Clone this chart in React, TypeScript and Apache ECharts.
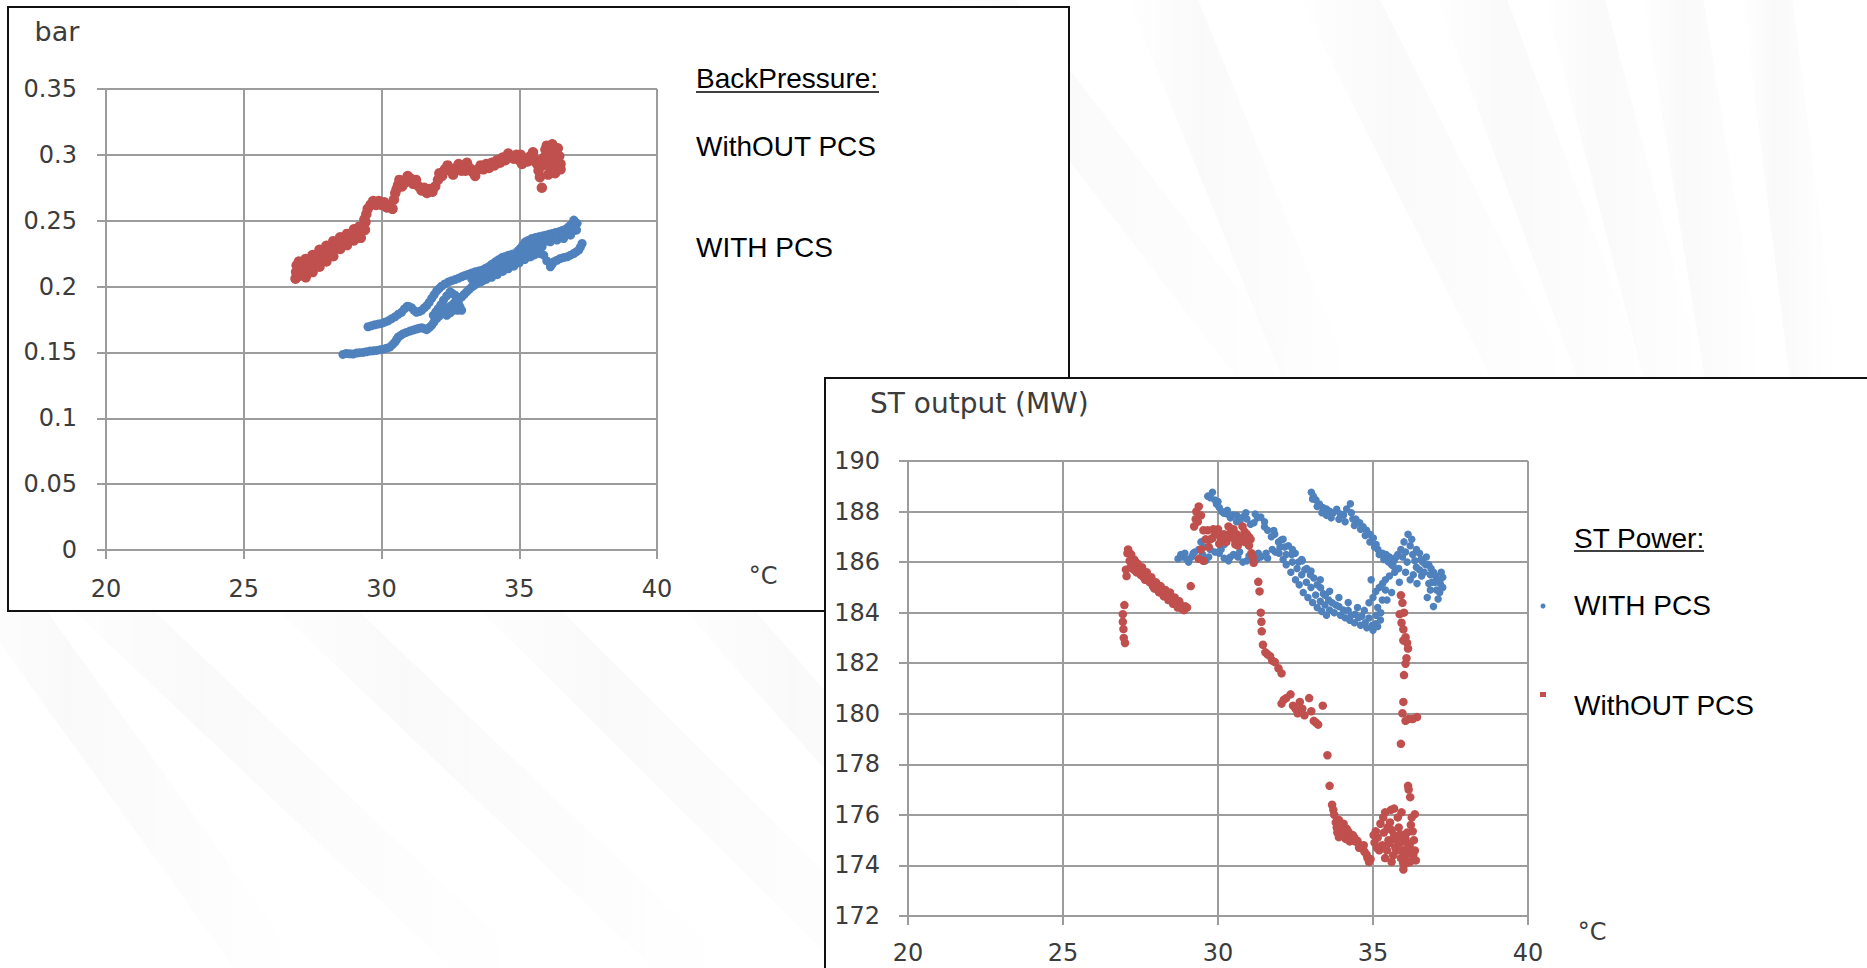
import React, { useEffect, useRef } from 'react';
import * as echarts from 'echarts';

// ---------- data ----------
const tempTicks = [20, 25, 30, 35, 40];
const bpTicks = [0, 0.05, 0.1, 0.15, 0.2, 0.25, 0.3, 0.35];
const powerTicks = [172, 174, 176, 178, 180, 182, 184, 186, 188, 190];

// BackPressure (bar) vs temperature (°C)
const bpWithoutPCS: [number, number][] = [
  [26.88, 0.206], [26.9, 0.211], [26.92, 0.216], [27.0, 0.208], [27.05, 0.214], [27.15, 0.209], [27.2, 0.215],
  [27.3, 0.212], [27.35, 0.219], [27.45, 0.216], [27.55, 0.221], [27.6, 0.217], [27.7, 0.224], [27.8, 0.221],
  [27.9, 0.227], [28.0, 0.223], [28.1, 0.23], [28.2, 0.226], [28.3, 0.233], [28.4, 0.229], [28.5, 0.236],
  [28.6, 0.232], [28.7, 0.238], [28.8, 0.235], [28.9, 0.24], [29.0, 0.237], [29.1, 0.242], [29.2, 0.239],
  [29.3, 0.245], [29.4, 0.243], [29.42, 0.249], [29.45, 0.255], [29.5, 0.259], [29.6, 0.262], [29.7, 0.265],
  [29.8, 0.262], [29.9, 0.265], [30.0, 0.262], [30.1, 0.264], [30.2, 0.26], [30.3, 0.262], [30.4, 0.259],
  [30.45, 0.266], [30.5, 0.271], [30.6, 0.277], [30.65, 0.281], [30.75, 0.276], [30.85, 0.279], [30.95, 0.284],
  [31.05, 0.282], [31.15, 0.278], [31.25, 0.281], [31.35, 0.276], [31.45, 0.273], [31.55, 0.275], [31.65, 0.271],
  [31.75, 0.274], [31.85, 0.272], [31.95, 0.276], [32.05, 0.281], [32.1, 0.286], [32.2, 0.284], [32.3, 0.289],
  [32.4, 0.292], [32.5, 0.288], [32.6, 0.285], [32.7, 0.29], [32.8, 0.293], [32.9, 0.288], [33.0, 0.291],
  [33.1, 0.294], [33.2, 0.29], [33.3, 0.287], [33.4, 0.284], [33.5, 0.289], [33.6, 0.292], [33.7, 0.289],
  [33.8, 0.293], [33.9, 0.29], [34.0, 0.294], [34.1, 0.292], [34.2, 0.296], [34.3, 0.294], [34.4, 0.298],
  [34.5, 0.296], [34.6, 0.301], [34.7, 0.299], [34.8, 0.297], [34.9, 0.3], [35.0, 0.296], [35.1, 0.293],
  [35.2, 0.297], [35.3, 0.295], [35.4, 0.299], [35.5, 0.302], [35.55, 0.297], [35.65, 0.293], [35.7, 0.288],
  [35.75, 0.283], [35.82, 0.275], [35.85, 0.292], [35.9, 0.298], [35.95, 0.304], [36.0, 0.307], [36.05, 0.3],
  [36.1, 0.294], [36.15, 0.288], [36.2, 0.308], [36.25, 0.303], [36.3, 0.297], [36.35, 0.291], [36.4, 0.305],
  [36.45, 0.299], [36.5, 0.293], [36.3, 0.286], [36.05, 0.285], [35.95, 0.295], [36.5, 0.289],
  [27.1, 0.218], [27.65, 0.22], [28.25, 0.229], [28.85, 0.237], [30.55, 0.274], [31.1, 0.28], [31.7, 0.272],
  [32.25, 0.287], [33.05, 0.288], [33.75, 0.291], [34.35, 0.296], [35.05, 0.3], [35.45, 0.296], [36.15, 0.302],
  // lower-left band edges
  [27.25, 0.207], [27.5, 0.211], [27.75, 0.215], [28.0, 0.219], [28.25, 0.223], [28.5, 0.2285], [28.75, 0.2315],
  [29.0, 0.235], [29.25, 0.237],
  [27.0, 0.219], [27.25, 0.221], [27.5, 0.224], [27.75, 0.228], [28.0, 0.231], [28.25, 0.2345], [28.5, 0.2375],
  [28.75, 0.24], [29.0, 0.2435], [29.2, 0.2455], [29.38, 0.251],
];

const bpWithPCS: [number, number][] = [
  // lower strand
  [28.6, 0.1485], [28.85, 0.149], [29.09, 0.1495], [29.33, 0.15], [29.58, 0.151], [29.82, 0.1515], [30.06, 0.1525],
  [30.3, 0.154], [30.49, 0.1579], [30.61, 0.1617], [30.79, 0.1642], [31.03, 0.1662], [31.27, 0.1678], [31.46, 0.1688],
  [31.64, 0.1673], [31.82, 0.1706], [32.0, 0.1756], [32.18, 0.1795], [32.37, 0.1833], [32.55, 0.1858], [32.73, 0.1896],
  [32.91, 0.1921], [33.09, 0.196], [33.28, 0.1997], [33.46, 0.2023], [33.7, 0.2048],
  [28.72, 0.1492], [28.97, 0.1488], [29.2, 0.1498], [29.45, 0.1505], [29.7, 0.1512], [29.94, 0.152], [30.18, 0.1532],
  [30.4, 0.156], [30.55, 0.1598], [30.7, 0.163], [30.9, 0.1652], [31.15, 0.167], [31.36, 0.1683], [31.55, 0.168],
  [31.73, 0.1688], [31.9, 0.173], [32.09, 0.1775], [32.27, 0.1814], [32.46, 0.1845], [32.64, 0.1877], [32.82, 0.1908],
  [33.0, 0.194], [33.18, 0.1978], [33.37, 0.201], [33.58, 0.2035],
  // middle strand
  [31.88, 0.1782], [32.06, 0.1833], [32.25, 0.1896], [32.49, 0.196], [32.67, 0.1934], [32.79, 0.187], [32.91, 0.182],
  [32.61, 0.182], [32.37, 0.1782],
  [31.97, 0.1808], [32.15, 0.186], [32.37, 0.193], [32.58, 0.1947], [32.73, 0.19], [32.85, 0.1845], [32.76, 0.182],
  [32.49, 0.18],
  // upper strand
  [29.51, 0.1695], [29.76, 0.171], [30.0, 0.172], [30.24, 0.174], [30.49, 0.177], [30.73, 0.1805], [30.93, 0.185],
  [31.09, 0.184], [31.27, 0.1805], [31.46, 0.182], [31.64, 0.1855], [31.82, 0.191], [32.0, 0.1967], [32.18, 0.2003],
  [32.43, 0.2035], [32.67, 0.2053], [32.91, 0.2074], [33.16, 0.2094], [33.4, 0.2112], [33.64, 0.2124], [33.88, 0.215],
  [34.13, 0.2188], [34.37, 0.222], [34.61, 0.2238], [34.85, 0.2251], [35.04, 0.2289], [35.22, 0.234], [35.46, 0.2365],
  [35.7, 0.2378], [35.95, 0.239], [36.19, 0.2403], [36.43, 0.2416], [36.67, 0.2434], [36.86, 0.2467], [36.98, 0.2505],
  [37.1, 0.248], [37.08, 0.2429], [36.92, 0.2416],
  [29.63, 0.1702], [29.88, 0.1715], [30.12, 0.173], [30.36, 0.1755], [30.61, 0.179], [30.83, 0.183], [31.0, 0.1848],
  [31.18, 0.182], [31.37, 0.181], [31.55, 0.1838], [31.73, 0.188], [31.91, 0.1938], [32.09, 0.1985], [32.3, 0.202],
  [32.55, 0.2045], [32.79, 0.2063], [33.03, 0.2084], [33.28, 0.2103], [33.52, 0.2118], [33.76, 0.2137], [34.0, 0.2169],
  [34.25, 0.2204], [34.49, 0.2229], [34.73, 0.2245], [34.95, 0.227], [35.13, 0.2315], [35.34, 0.2352], [35.58, 0.2372],
  [35.83, 0.2384], [36.07, 0.2397], [36.31, 0.241], [36.55, 0.2425], [36.77, 0.245],
  // main band, lower side
  [33.28, 0.2056], [33.58, 0.2074], [33.88, 0.2094], [34.19, 0.2135], [34.49, 0.2175], [34.73, 0.22], [34.98, 0.2226],
  [35.28, 0.2251], [35.58, 0.2277], [35.83, 0.2302], [36.13, 0.234], [36.37, 0.2353], [36.61, 0.2365], [36.86, 0.239],
  [37.04, 0.2429],
  [33.5, 0.209], [33.75, 0.2105], [34.0, 0.2165], [34.25, 0.219], [34.5, 0.2205], [34.75, 0.2225], [35.1, 0.2255],
  [35.35, 0.2305], [35.6, 0.233], [35.85, 0.235], [36.1, 0.237], [36.35, 0.2385], [36.6, 0.2395], [36.8, 0.243],
  [37.0, 0.247], [37.05, 0.2485], [36.95, 0.2445],
  [33.4, 0.2025], [33.6, 0.2035], [33.8, 0.2055], [34.0, 0.207], [34.2, 0.209], [34.4, 0.2115], [34.6, 0.2135],
  [34.8, 0.2155], [35.0, 0.218], [35.2, 0.2205], [35.4, 0.2225], [35.55, 0.224],
  [33.5, 0.2065], [33.8, 0.2095], [34.1, 0.2125], [34.4, 0.2165], [34.7, 0.219], [35.0, 0.2235], [35.3, 0.228],
  [35.5, 0.231], [35.8, 0.233], [36.0, 0.2345],
  // right lower branch
  [35.64, 0.2264], [35.89, 0.2238], [36.13, 0.215], [36.25, 0.2188], [36.49, 0.2213], [36.74, 0.2226], [36.98, 0.2251],
  [37.16, 0.2277], [37.28, 0.2327],
  [35.76, 0.2251], [36.0, 0.2195], [36.19, 0.2169], [36.37, 0.22], [36.61, 0.222], [36.86, 0.2238], [37.07, 0.2264],
  [37.22, 0.23],
];

// ST output (MW) vs temperature (°C)
const stWithPCS: [number, number][] = [
  [28.71, 186.13], [28.85, 186.2], [28.93, 186.35], [29.05, 186.0], [29.15, 186.2], [29.25, 186.4], [29.38, 186.5],
  [29.45, 186.8], [29.6, 186.05], [29.75, 186.5], [29.67, 188.61], [29.82, 188.76], [29.9, 188.46], [29.95, 188.3],
  [30.04, 188.16], [30.12, 188.0], [30.19, 187.93], [30.3, 187.9], [30.4, 187.75], [30.49, 187.86], [30.6, 187.6],
  [30.71, 187.63], [30.82, 187.8], [30.93, 187.71], [31.05, 187.5], [31.16, 187.56], [31.27, 187.75], [31.38, 187.78],
  [31.5, 187.4], [31.6, 187.26], [31.72, 187.0], [31.83, 187.1], [31.95, 186.8], [32.05, 186.88], [32.15, 186.6],
  [32.27, 186.65], [32.38, 186.3], [32.49, 186.35], [32.6, 186.0], [32.72, 186.05], [32.8, 185.7], [32.86, 185.75],
  [32.98, 185.5], [33.09, 185.37], [33.2, 185.1], [33.31, 184.99], [33.4, 184.75], [33.46, 184.69], [33.57, 184.5],
  [33.68, 184.39], [33.8, 184.3], [33.9, 184.24], [34.05, 184.1], [34.2, 184.09], [34.3, 183.9], [34.42, 183.94],
  [34.53, 183.8], [34.64, 183.86], [34.75, 183.6], [34.87, 183.79], [34.98, 183.5], [35.09, 183.56], [35.24, 183.71],
  [30.04, 186.35], [30.2, 186.15], [30.34, 186.05], [30.5, 186.3], [30.64, 186.2], [30.8, 186.0], [30.93, 186.05],
  [31.1, 186.3], [31.25, 186.1], [31.38, 186.2], [31.55, 186.35], [31.75, 186.5], [31.97, 186.35], [32.1, 186.1],
  [32.2, 185.9], [32.35, 185.6], [32.5, 185.3], [32.62, 185.1], [32.75, 184.8], [32.9, 184.6], [33.05, 184.4],
  [33.2, 184.2], [33.35, 184.05], [33.5, 183.9],
  [32.0, 186.6], [32.2, 186.3], [32.4, 186.0], [32.55, 185.75], [32.7, 185.5], [32.85, 185.2], [33.0, 185.0],
  [33.15, 184.7], [33.3, 184.45], [33.45, 184.3], [33.6, 184.1], [33.75, 184.0], [33.95, 183.9], [34.1, 183.8],
  [34.25, 183.7], [34.4, 183.6], [34.6, 183.5], [34.8, 183.4], [35.0, 183.3], [35.15, 183.45], [34.5, 184.2],
  [34.2, 184.4], [33.9, 184.6], [33.6, 184.85], [33.3, 185.3], [33.0, 185.65], [32.7, 186.1], [32.4, 186.5],
  [32.1, 186.9], [31.8, 187.25], [31.5, 187.6], [31.2, 187.9], [30.9, 187.95], [30.6, 187.85], [30.3, 188.05],
  [30.0, 188.4], [29.75, 188.55],
  [33.01, 188.76], [33.08, 188.6], [33.16, 188.46], [33.27, 188.3], [33.38, 188.16], [33.5, 188.1], [33.6, 188.01],
  [33.72, 187.95], [33.83, 188.09], [33.95, 187.9], [34.05, 187.86], [34.15, 188.1], [34.27, 188.31], [34.35, 187.71],
  [34.45, 187.7], [34.57, 187.56], [34.68, 187.4], [34.79, 187.26], [34.9, 187.1], [35.01, 186.95], [35.1, 186.7],
  [35.16, 186.5], [35.31, 186.35], [35.42, 186.3], [35.53, 186.2], [35.68, 186.05], [35.8, 186.3], [35.9, 186.5],
  [36.0, 186.8], [36.13, 187.1], [36.2, 186.65], [36.28, 186.3], [36.35, 186.05], [36.5, 186.35], [36.6, 186.0],
  [36.72, 186.2], [36.8, 185.9], [36.87, 185.75], [36.95, 185.6], [37.02, 185.45], [37.1, 185.3], [37.17, 185.15],
  [37.1, 184.54], [36.95, 184.24], [37.05, 184.9], [36.8, 185.15], [36.57, 185.45], [36.42, 185.15], [36.3, 185.5],
  [35.83, 185.75], [35.7, 185.6], [35.53, 185.45], [35.4, 185.3], [35.31, 185.15], [35.2, 185.0], [35.09, 184.84],
  [34.94, 185.3], [34.87, 184.39], [34.72, 184.09], [35.0, 184.6], [35.15, 184.2], [35.3, 184.5], [35.4, 184.9],
  [35.6, 185.9], [36.1, 186.0], [36.4, 185.8], [36.65, 185.6], [36.9, 185.2], [37.2, 185.6], [37.25, 185.0],
  [33.05, 188.5], [33.2, 188.2], [33.35, 187.95], [33.5, 187.85], [33.65, 187.75], [33.9, 187.7], [34.1, 187.6],
  [34.3, 187.95], [34.4, 187.45], [34.6, 187.3], [34.75, 187.05], [34.9, 186.8], [35.05, 186.6], [35.2, 186.3],
  [35.35, 186.1], [35.5, 186.0], [35.65, 185.85], [35.75, 186.2], [35.95, 186.2], [36.05, 186.4], [36.25, 186.9],
  [36.4, 186.5], [36.55, 186.1], [36.7, 185.9], [36.85, 185.5], [37.0, 185.2], [37.15, 184.8], [37.25, 185.4],
  [36.75, 184.6], [36.85, 184.9], [36.5, 185.7], [36.2, 185.3], [36.05, 185.6], [35.85, 185.2], [35.6, 184.8],
  [35.45, 184.5], [35.25, 184.0], [35.1, 183.9],
  [28.8, 186.3], [29.0, 186.1], [29.2, 186.35], [29.5, 186.3], [29.7, 186.2], [29.9, 186.4], [30.1, 186.5],
  [30.4, 186.2], [30.7, 186.4], [31.0, 186.25], [31.3, 186.35], [31.6, 186.15], [31.85, 186.4], [30.2, 186.7],
  [29.55, 186.6],
];

const stWithoutPCS: [number, number][] = [
  [26.93, 183.94], [26.93, 183.64], [26.95, 183.35], [26.96, 183.0], [27.0, 182.8], [26.98, 184.3], [27.05, 185.45],
  [27.03, 185.7], [27.08, 186.35], [27.1, 186.5],
  [27.15, 186.05], [27.2, 186.3], [27.23, 185.9], [27.3, 186.1], [27.37, 185.6], [27.4, 185.95], [27.5, 185.5],
  [27.55, 185.8], [27.65, 185.3], [27.7, 185.6], [27.8, 185.2], [27.85, 185.4], [27.95, 184.95], [28.0, 185.2],
  [28.1, 184.8], [28.15, 185.05], [28.25, 184.65], [28.3, 184.9], [28.4, 184.5], [28.45, 184.8], [28.55, 184.35],
  [28.6, 184.6], [28.7, 184.2], [28.75, 184.45], [28.85, 184.15], [28.95, 184.25], [29.12, 185.05],
  [27.12, 186.4], [27.18, 185.8], [27.28, 185.7], [27.33, 186.0], [27.45, 185.7], [27.6, 185.4], [27.75, 185.35],
  [27.9, 185.05], [28.05, 184.95], [28.2, 184.85], [28.35, 184.65], [28.5, 184.55], [28.65, 184.35], [28.8, 184.3],
  [28.9, 184.1], [29.0, 184.2],
  [29.23, 187.41], [29.3, 188.0], [29.38, 188.2], [29.45, 187.85], [29.53, 187.26], [29.45, 186.5], [29.38, 186.13],
  [29.53, 186.05], [29.67, 187.26], [29.75, 186.9], [29.82, 186.95], [29.9, 187.2], [29.97, 187.1], [30.04, 186.73],
  [30.1, 186.9], [30.19, 187.1], [30.27, 186.8], [30.34, 187.41], [30.42, 187.2], [30.49, 186.95], [30.56, 186.7],
  [30.64, 186.65], [30.72, 187.0], [30.79, 187.41], [30.86, 187.2], [30.93, 187.1], [31.0, 186.65], [31.05, 186.9],
  [31.08, 186.35], [31.15, 185.97], [31.12, 186.2],
  [29.6, 186.9], [29.7, 186.6], [29.85, 187.3], [30.0, 187.3], [30.15, 186.95], [30.3, 187.0], [30.5, 187.3],
  [30.6, 187.1], [30.7, 186.8], [30.85, 186.8], [31.0, 187.0], [29.35, 187.6], [29.28, 187.7],
  [31.3, 185.22], [31.34, 184.84], [31.38, 184.0], [31.4, 183.64], [31.41, 183.26], [31.45, 182.73], [31.53, 182.43],
  [31.6, 182.35], [31.68, 182.28], [31.75, 182.1], [31.83, 182.05], [31.95, 181.8], [32.05, 181.6], [32.05, 180.4],
  [32.12, 180.55], [32.2, 180.62], [32.34, 180.77], [32.42, 180.32], [32.5, 180.2], [32.57, 180.02], [32.64, 180.47],
  [32.72, 180.2], [32.79, 179.94], [32.94, 180.62], [33.01, 180.1], [33.09, 179.72], [33.16, 179.65], [33.23, 179.57],
  [33.38, 180.32],
  [33.53, 178.36], [33.6, 177.15], [33.68, 176.4], [33.72, 176.2], [33.75, 176.0], [33.8, 175.7], [33.83, 175.5],
  [33.9, 175.12], [33.9, 175.8], [33.97, 175.4], [34.05, 175.65], [34.12, 175.05], [34.2, 175.35], [34.28, 175.15],
  [34.35, 175.2], [34.42, 174.95], [34.5, 174.97], [34.57, 174.8], [34.64, 174.74], [34.72, 174.55], [34.79, 174.44],
  [34.87, 174.14],
  [33.85, 175.3], [34.0, 175.25], [34.15, 175.45], [34.25, 174.95], [34.4, 175.1], [34.55, 174.7], [34.7, 174.8],
  [34.82, 174.3], [34.92, 174.25],
  [35.05, 174.9], [35.09, 175.35], [35.15, 175.1], [35.24, 175.65], [35.3, 174.8], [35.39, 176.1], [35.39, 174.29],
  [35.47, 175.5], [35.5, 175.0], [35.53, 174.89], [35.6, 174.14], [35.6, 175.4], [35.68, 175.2], [35.68, 176.25],
  [35.72, 174.7], [35.76, 174.59], [35.8, 175.9], [35.83, 175.5], [35.87, 174.9], [35.9, 174.29], [35.95, 175.2],
  [35.98, 173.84], [36.0, 174.6], [36.05, 175.05], [36.1, 174.1], [36.13, 174.59], [36.2, 174.14], [36.22, 175.6],
  [36.28, 175.35], [36.3, 174.4], [36.35, 176.03], [36.35, 174.59], [36.2, 176.7], [36.15, 177.0], [36.13, 177.15],
  [35.2, 174.6], [35.35, 175.3], [35.45, 174.6], [35.55, 175.7], [35.65, 174.4], [35.75, 175.0], [35.85, 175.2],
  [35.92, 174.6], [35.97, 174.1], [36.03, 174.35], [36.08, 174.9], [36.18, 174.8], [36.25, 174.45], [36.32, 175.0],
  [36.38, 174.2], [35.58, 176.2], [35.92, 176.1], [36.1, 175.3], [36.25, 175.9], [35.33, 175.9], [35.12, 174.7],
  [35.02, 175.2],
  [35.9, 184.69], [35.95, 184.39], [35.86, 183.94], [35.92, 183.6], [35.98, 183.34], [36.05, 183.03], [36.1, 182.8],
  [36.13, 182.58], [36.08, 182.2], [36.05, 181.98], [36.0, 181.53], [35.98, 180.47], [35.95, 180.02], [36.05, 179.72],
  [36.15, 179.8], [36.28, 179.79], [36.42, 179.87], [35.9, 178.81], [36.0, 184.0], [35.98, 182.9],
];

// ---------- styles ----------
const RED = '#C0504D';
const BLUE = '#4F81BD';
const GRID_GRAY = '#9c9c9c';
const LABEL = '#3c3c3c';
const AX_FONT = 'DejaVu Sans';
const LEG_FONT = 'Liberation Sans';

const axisCommon = (z: number) => ({
  z,
  axisLine: { show: true, lineStyle: { color: GRID_GRAY, width: 2 } },
  axisTick: { show: true, inside: false, length: 9, lineStyle: { color: GRID_GRAY, width: 2 } },
  splitLine: { show: true, lineStyle: { color: GRID_GRAY, width: 2 } },
});

function stripe(x0: number, y0: number, x1: number, y1: number, w: number) {
  return {
    type: 'polygon',
    z: -30,
    silent: true,
    shape: { points: [[x0, y0], [x1, y1], [x1 + w, y1], [x0 + w, y0]] },
    style: {
      fill: new echarts.graphic.LinearGradient(0, 0, 1, 0, [
        { offset: 0, color: 'rgba(0,0,0,0)' },
        { offset: 0.35, color: 'rgba(0,0,0,0.022)' },
        { offset: 1, color: 'rgba(0,0,0,0)' },
      ]),
    },
  };
}

function txt(x: number, y: number, text: string, font: string, z: number, align = 'left', fill = '#000') {
  return {
    type: 'text',
    x,
    y,
    z,
    silent: true,
    style: { text, font, fill, align, verticalAlign: 'middle', textAlign: align, textVerticalAlign: 'middle' },
  };
}

function hline(x1: number, x2: number, y: number, z: number) {
  return {
    type: 'line',
    z,
    silent: true,
    shape: { x1, y1: y, x2, y2: y },
    style: { stroke: '#000', lineWidth: 1.5 },
  };
}

export default function App() {
  const ref = useRef<HTMLDivElement>(null);

  useEffect(() => {
    document.body.style.margin = '0';
    document.body.style.overflow = 'hidden';
    const chart = echarts.init(ref.current as HTMLDivElement, null, { renderer: 'svg' });

    const option: any = {
      animation: false,
      backgroundColor: '#ffffff',
      grid: [
        { left: 106, top: 89, width: 551, height: 461, containLabel: false },
        { left: 908, top: 461, width: 620, height: 455, containLabel: false },
      ],
      xAxis: [
        {
          type: 'value', gridIndex: 0, min: tempTicks[0], max: tempTicks[tempTicks.length - 1], interval: 5,
          ...axisCommon(1),
          axisLabel: { margin: 27, fontFamily: AX_FONT, fontSize: 24, color: LABEL },
        },
        {
          type: 'value', gridIndex: 1, min: tempTicks[0], max: tempTicks[tempTicks.length - 1], interval: 5,
          ...axisCommon(25),
          axisLabel: { margin: 25, fontFamily: AX_FONT, fontSize: 24, lineHeight: 24, color: LABEL },
        },
      ],
      yAxis: [
        {
          type: 'value', gridIndex: 0, min: bpTicks[0], max: bpTicks[bpTicks.length - 1], interval: 0.05,
          ...axisCommon(1),
          axisLabel: { margin: 29, fontFamily: AX_FONT, fontSize: 24, color: LABEL },
        },
        {
          type: 'value', gridIndex: 1, min: powerTicks[0], max: powerTicks[powerTicks.length - 1], interval: 2,
          ...axisCommon(25),
          axisLabel: { margin: 28, fontFamily: AX_FONT, fontSize: 24, color: LABEL },
        },
      ],
      series: [
        {
          name: 'WithOUT PCS', type: 'scatter', xAxisIndex: 0, yAxisIndex: 0, z: 3,
          symbol: 'circle', symbolSize: 10.5, itemStyle: { color: RED, opacity: 1 }, data: bpWithoutPCS,
        },
        {
          name: 'WITH PCS', type: 'scatter', xAxisIndex: 0, yAxisIndex: 0, z: 3,
          symbol: 'circle', symbolSize: 9, itemStyle: { color: BLUE, opacity: 1 }, data: bpWithPCS,
        },
        {
          name: 'WITH PCS ', type: 'scatter', xAxisIndex: 1, yAxisIndex: 1, z: 30,
          symbol: 'circle', symbolSize: 7.5, itemStyle: { color: BLUE, opacity: 1 }, data: stWithPCS,
        },
        {
          name: 'WithOUT PCS ', type: 'scatter', xAxisIndex: 1, yAxisIndex: 1, z: 30,
          symbol: 'circle', symbolSize: 8.5, itemStyle: { color: RED, opacity: 1 }, data: stWithoutPCS,
        },
      ],
      graphic: [
        // background swooshes
        stripe(-60, 560, 234, 968, 70),
        stripe(20, 560, 451, 968, 80),
        stripe(225, 560, 653, 968, 80),
        stripe(430, 560, 840, 968, 80),
        stripe(640, 560, 1000, 968, 70),
        stripe(900, -60, 1238, 380, 70),
        stripe(1120, -20, 1283, 380, 70),
        stripe(1290, -20, 1492, 380, 80),
        stripe(1430, -20, 1578, 380, 70),
        stripe(1540, -20, 1644, 380, 60),
        stripe(1640, -20, 1705, 380, 60),
        stripe(1740, -20, 1790, 380, 50),
        // chart 1 frame
        {
          type: 'rect', z: -20, silent: true,
          shape: { x: 8, y: 7, width: 1061, height: 604 },
          style: { fill: '#ffffff', stroke: '#111', lineWidth: 2 },
        },
        txt(57, 31, 'bar', `27px "${AX_FONT}"`, 2, 'center', LABEL),
        txt(763, 576, '°C', `24px "${AX_FONT}"`, 2, 'center', LABEL),
        txt(696, 78, 'BackPressure:', `28px "${LEG_FONT}"`, 2),
        hline(696, 879, 92, 2),
        txt(696, 146, 'WithOUT PCS', `28px "${LEG_FONT}"`, 2),
        txt(696, 247, 'WITH PCS', `28px "${LEG_FONT}"`, 2),
        // chart 2 frame
        {
          type: 'rect', z: 20, silent: true,
          shape: { x: 825, y: 378, width: 1200, height: 700 },
          style: { fill: '#ffffff', stroke: '#111', lineWidth: 2 },
        },
        txt(870, 403, 'ST output (MW)', `28px "${AX_FONT}"`, 26, 'left', LABEL),
        txt(1592, 932, '°C', `24px "${AX_FONT}"`, 26, 'center', LABEL),
        txt(1574, 538, 'ST Power:', `28px "${LEG_FONT}"`, 26),
        hline(1574, 1704, 551, 26),
        txt(1574, 605, 'WITH PCS', `28px "${LEG_FONT}"`, 26),
        txt(1574, 705, 'WithOUT PCS', `28px "${LEG_FONT}"`, 26),
        { type: 'circle', z: 26, silent: true, shape: { cx: 1543, cy: 606, r: 2.5 }, style: { fill: BLUE } },
        { type: 'rect', z: 26, silent: true, shape: { x: 1540, y: 692, width: 6, height: 5 }, style: { fill: RED } },
      ],
    };

    chart.setOption(option);
    return () => chart.dispose();
  }, []);

  return (
    <div
      ref={ref}
      style={{ position: 'absolute', left: 0, top: 0, width: 1867, height: 968, background: '#fff' }}
    />
  );
}
